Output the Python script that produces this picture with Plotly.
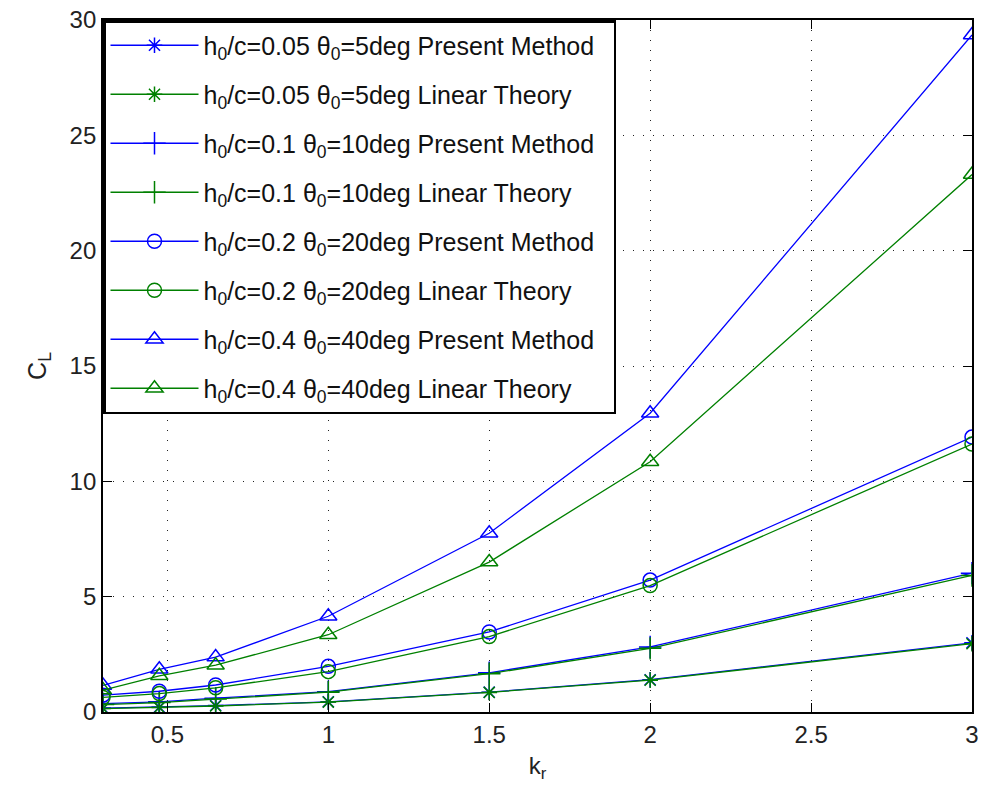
import plotly.graph_objects as go

kr = [0.3, 0.475, 0.65, 1.0, 1.5, 2.0, 3.0]

cl_005_pm = [0.17, 0.21, 0.28, 0.44, 0.86, 1.40, 3.00]
cl_005_lt = [0.15, 0.19, 0.26, 0.43, 0.85, 1.38, 2.96]
cl_01_pm = [0.36, 0.44, 0.60, 0.88, 1.70, 2.82, 6.02]
cl_01_lt = [0.32, 0.41, 0.56, 0.86, 1.66, 2.76, 5.92]
cl_02_pm = [0.73, 0.90, 1.17, 1.98, 3.47, 5.72, 11.92]
cl_02_lt = [0.63, 0.80, 1.05, 1.75, 3.27, 5.48, 11.62]
cl_04_pm = [1.15, 1.85, 2.38, 4.15, 7.75, 12.95, 29.35]
cl_04_lt = [0.95, 1.57, 2.03, 3.35, 6.50, 10.85, 23.30]

names = [
    "h<sub>0</sub>/c=0.05 θ<sub>0</sub>=5deg Present Method",
    "h<sub>0</sub>/c=0.05 θ<sub>0</sub>=5deg Linear Theory",
    "h<sub>0</sub>/c=0.1 θ<sub>0</sub>=10deg Present Method",
    "h<sub>0</sub>/c=0.1 θ<sub>0</sub>=10deg Linear Theory",
    "h<sub>0</sub>/c=0.2 θ<sub>0</sub>=20deg Present Method",
    "h<sub>0</sub>/c=0.2 θ<sub>0</sub>=20deg Linear Theory",
    "h<sub>0</sub>/c=0.4 θ<sub>0</sub>=40deg Present Method",
    "h<sub>0</sub>/c=0.4 θ<sub>0</sub>=40deg Linear Theory",
]
series = [cl_005_pm, cl_005_lt, cl_01_pm, cl_01_lt, cl_02_pm, cl_02_lt, cl_04_pm, cl_04_lt]
symbols = ["asterisk-open", "asterisk-open", "cross-thin-open", "cross-thin-open",
           "circle-open", "circle-open", "triangle-up-open", "triangle-up-open"]
sizes = [13, 13, 16, 16, 14, 14, 15, 15]
colors = ["#0000ff", "#008000"] * 4

FONT = "Liberation Sans, Arial"
PAD = "\u00a0\u00a0"

fig = go.Figure()
for i, (nm, ys, sym, sz, col) in enumerate(zip(names, series, symbols, sizes, colors)):
    fig.add_trace(go.Scatter(
        x=kr, y=ys, name=nm + PAD, mode="lines+markers",
        line=dict(color=col, width=1.3),
        marker=dict(symbol=sym, size=sz, color=col, line=dict(color=col, width=1.5)),
        legendgroup=f"g{i}",
    ))

axis_common = dict(
    showline=True, linecolor="black", linewidth=1.8, mirror="ticks",
    ticks="inside", ticklen=9, tickcolor="black", tickwidth=1.2,
    showgrid=True, gridcolor="#222222", gridwidth=1.3, griddash="1.3px,8.7px",
    zeroline=False,
    tickfont=dict(family=FONT, size=24, color="#222222"),
)

fig.update_xaxes(range=[0.3, 3.0], tickvals=[0.5, 1, 1.5, 2, 2.5, 3],
                 ticktext=["0.5", "1", "1.5", "2", "2.5", "3"],
                 title=dict(text="k<sub>r</sub>", font=dict(family=FONT, size=24, color="#222222"), standoff=10),
                 **axis_common)
fig.update_yaxes(range=[0, 30], tickvals=[0, 5, 10, 15, 20, 25, 30],
                 title=dict(text="C<sub>L</sub>", font=dict(family=FONT, size=25, color="#222222"), standoff=16),
                 **axis_common)

fig.update_layout(
    width=985, height=790,
    margin=dict(l=103, r=6, t=20, b=78),
    paper_bgcolor="white", plot_bgcolor="white",
    showlegend=True,
    legend=dict(x=0, y=1, xanchor="left", yanchor="top",
                bgcolor="white", bordercolor="black", borderwidth=2.5,
                font=dict(family=FONT, size=25, color="#111111"),
                itemwidth=88, tracegroupgap=13.5, traceorder="grouped"),
)

fig.write_html("out.html")
